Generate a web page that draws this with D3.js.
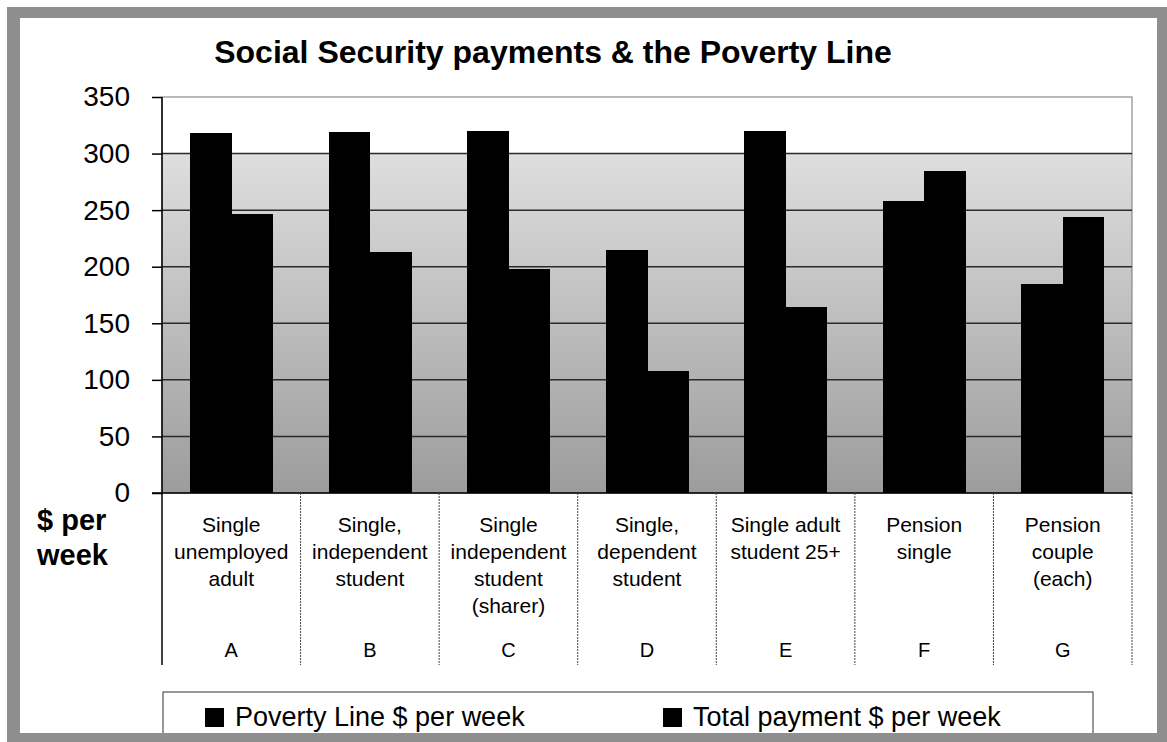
<!DOCTYPE html>
<html>
<head>
<meta charset="utf-8">
<script src="https://cdn.jsdelivr.net/npm/d3@7"></script>
<style>
  body { margin: 0; background: #fff; }
  text { font-family: 'Liberation Sans', Arial, sans-serif; fill: #000; }
</style>
</head>
<body>
<div id="chart"></div>
<script>
// Chart data
const letters = ['A', 'B', 'C', 'D', 'E', 'F', 'G'];
const categoryLines = [
  ['Single', 'unemployed', 'adult'],
  ['Single,', 'independent', 'student'],
  ['Single', 'independent', 'student', '(sharer)'],
  ['Single,', 'dependent', 'student'],
  ['Single adult', 'student 25+'],
  ['Pension', 'single'],
  ['Pension', 'couple', '(each)'],
];
const seriesNames = ['Poverty Line $ per week', 'Total payment $ per week'];
const povertyLine = [318.5, 319, 320, 215, 320, 258, 185];
const totalPayment = [246.5, 213, 198, 108, 164, 285, 244];
const yTicks = [0, 50, 100, 150, 200, 250, 300, 350];

const W = 1167, H = 742;
const plot = { left: 162, right: 1132, top: 97, bottom: 493 };

const svg = d3
  .select('#chart')
  .append('svg')
  .attr('width', W)
  .attr('height', H);

// Background gradient of the plot area
const defs = svg.append('defs');
const grad = defs
  .append('linearGradient')
  .attr('id', 'bg')
  .attr('x1', 0).attr('y1', 0).attr('x2', 0).attr('y2', 1);
grad.append('stop').attr('offset', 0).attr('stop-color', '#ffffff');
grad.append('stop').attr('offset', 0.143).attr('stop-color', '#ffffff');
grad.append('stop').attr('offset', 0.143).attr('stop-color', '#dedede');
grad.append('stop').attr('offset', 1).attr('stop-color', '#9c9c9c');

// Scales
const x0 = d3.scaleBand().domain(letters).range([plot.left, plot.right]);
const x1 = d3
  .scaleBand()
  .domain(seriesNames)
  .range([0, x0.bandwidth()])
  .paddingInner(0)
  .paddingOuter(0.68);
const y = d3.scaleLinear().domain([0, 350]).range([plot.bottom, plot.top]);

const rows = letters.map((l, i) => ({
  letter: l,
  values: [povertyLine[i], totalPayment[i]],
}));

// Plot background
svg
  .append('rect')
  .attr('x', plot.left)
  .attr('y', plot.top)
  .attr('width', plot.right - plot.left)
  .attr('height', plot.bottom - plot.top)
  .attr('fill', 'url(#bg)')
  .attr('stroke', '#777')
  .attr('stroke-width', 1);

// Gridlines
svg
  .append('g')
  .selectAll('line')
  .data(yTicks.filter((t) => t > 0 && t < 350))
  .enter()
  .append('line')
  .attr('x1', plot.left)
  .attr('x2', plot.right)
  .attr('y1', (d) => y(d))
  .attr('y2', (d) => y(d))
  .attr('stroke', '#2a2a2a')
  .attr('stroke-width', 1.5);

// Bars
const groups = svg
  .append('g')
  .selectAll('g')
  .data(rows)
  .enter()
  .append('g')
  .attr('transform', (d) => `translate(${x0(d.letter)},0)`);

groups
  .selectAll('rect')
  .data((d) => d.values.map((v, j) => ({ key: seriesNames[j], value: v })))
  .enter()
  .append('rect')
  .attr('x', (d) => x1(d.key))
  .attr('y', (d) => y(d.value))
  .attr('width', x1.bandwidth() + 0.5)
  .attr('height', (d) => y(0) - y(d.value))
  .attr('fill', '#000')
  .attr('shape-rendering', 'crispEdges');

// Y axis
const yAxis = svg
  .append('g')
  .attr('transform', `translate(${plot.left},0)`)
  .call(d3.axisLeft(y).tickValues(yTicks).tickSize(10).tickPadding(22));
yAxis.select('.domain').remove();
yAxis.selectAll('.tick line').attr('stroke', '#000').attr('stroke-width', 1.5);
yAxis
  .selectAll('.tick text')
  .style('font-size', '28px')
  .style('font-family', "'Liberation Sans', Arial, sans-serif");

// Category table below the axis
const tableBottom = 665;
svg
  .append('line')
  .attr('x1', plot.left)
  .attr('x2', plot.left)
  .attr('y1', plot.top)
  .attr('y2', tableBottom)
  .attr('stroke', '#000')
  .attr('stroke-width', 1.5);
svg
  .append('line')
  .attr('x1', plot.left - 10)
  .attr('x2', plot.right)
  .attr('y1', plot.bottom)
  .attr('y2', plot.bottom)
  .attr('stroke', '#000')
  .attr('stroke-width', 1.5);

svg
  .append('g')
  .selectAll('line')
  .data(letters)
  .enter()
  .append('line')
  .attr('x1', (d) => x0(d) + x0.bandwidth())
  .attr('x2', (d) => x0(d) + x0.bandwidth())
  .attr('y1', plot.bottom)
  .attr('y2', tableBottom)
  .attr('stroke', '#444')
  .attr('stroke-width', 1)
  .attr('stroke-dasharray', '2,1');

const labels = svg
  .append('g')
  .selectAll('text')
  .data(rows)
  .enter()
  .append('text')
  .attr('text-anchor', 'middle')
  .style('font-size', '21px');
labels
  .selectAll('tspan')
  .data((d, i) => categoryLines[i].map((t) => ({ t, x: x0(d.letter) + x0.bandwidth() / 2 })))
  .enter()
  .append('tspan')
  .attr('x', (d) => d.x)
  .attr('y', (d, k) => 532 + k * 27)
  .text((d) => d.t);

svg
  .append('g')
  .selectAll('text')
  .data(letters)
  .enter()
  .append('text')
  .attr('x', (d) => x0(d) + x0.bandwidth() / 2)
  .attr('y', 657)
  .attr('text-anchor', 'middle')
  .style('font-size', '20px')
  .text((d) => d);

// Axis unit label
const unit = svg
  .append('text')
  .style('font-size', '29px')
  .style('font-weight', 'bold');
unit.append('tspan').attr('x', 37).attr('y', 530).text('$ per');
unit.append('tspan').attr('x', 37).attr('y', 565).text('week');

// Title
svg
  .append('text')
  .attr('x', 553)
  .attr('y', 63)
  .attr('text-anchor', 'middle')
  .style('font-size', '32px')
  .style('font-weight', 'bold')
  .text('Social Security payments & the Poverty Line');

// Legend
svg
  .append('rect')
  .attr('x', 163)
  .attr('y', 692)
  .attr('width', 930)
  .attr('height', 60)
  .attr('fill', '#fff')
  .attr('stroke', '#333')
  .attr('stroke-width', 1);

const legendX = [205, 663];
const legend = svg
  .selectAll('.legend')
  .data(seriesNames)
  .enter()
  .append('g')
  .attr('class', 'legend')
  .attr('transform', (d, i) => `translate(${legendX[i]},0)`);
legend
  .append('rect')
  .attr('x', 0)
  .attr('y', 708)
  .attr('width', 19)
  .attr('height', 19)
  .attr('fill', '#000');
legend
  .append('text')
  .attr('x', 30)
  .attr('y', 726)
  .style('font-size', '27px')
  .text((d) => d);

// Outer frame
svg
  .append('path')
  .attr('fill-rule', 'evenodd')
  .attr('fill', '#8e8e8e')
  .attr('d', `M7,7H${W}V${H}H7Z M20,18V733H1157V18Z`);
</script>
</body>
</html>
